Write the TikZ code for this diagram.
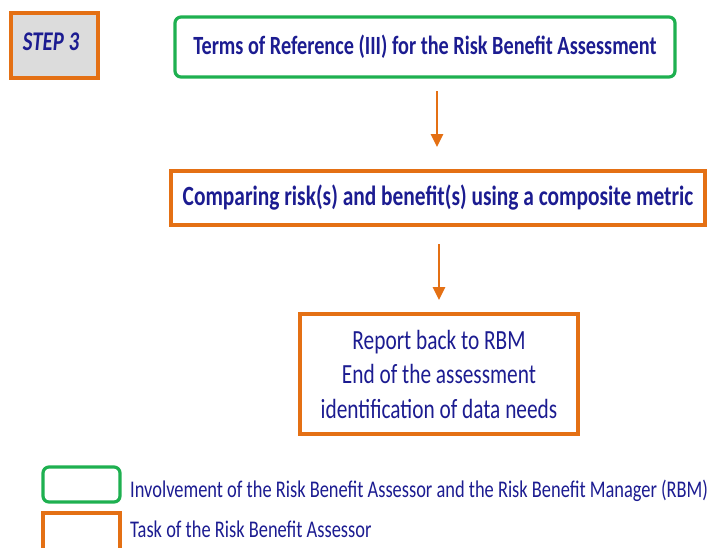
\documentclass[tikz,border=0pt]{standalone}
\usepackage{fontspec}
\setmainfont[FakeStretch=0.77]{Carlito}
\usetikzlibrary{arrows.meta}
\definecolor{ink}{RGB}{28,28,145}
\definecolor{boxorange}{RGB}{228,112,20}
\definecolor{boxgreen}{RGB}{30,176,80}
\definecolor{stepgray}{RGB}{220,220,220}
\tikzset{
  taskbox/.style={draw=boxorange, line width=3.2pt, fill=white, inner sep=0pt, align=center, text=ink},
  jointbox/.style={draw=boxgreen, line width=3.2pt, rounded corners=6pt, fill=white, inner sep=0pt, align=center, text=ink},
  flow/.style={draw=boxorange, line width=2.8pt, -{Triangle[length=13pt,width=12pt]}},
  legendtext/.style={anchor=base west, inner sep=0pt, text=ink, font=\fontsize{23.9}{28}\selectfont}
}
\begin{document}
\begin{tikzpicture}[x=1pt,y=-1pt]
\useasboundingbox (0,0) rectangle (708,547);
% step label
\node[taskbox, fill=stepgray, minimum width=87pt, minimum height=65pt] (step) at (54.5,45.5) {};
\node[inner sep=0pt, anchor=base, text=ink, font=\fontsize{27}{32}\selectfont\bfseries\itshape] (steptext) at (51,50) {STEP 3};
% flow boxes
\node[jointbox, minimum width=500pt, minimum height=60pt,
      font=\fontsize{26.3}{31}\selectfont\bfseries] (tor) at (425,47)
      {Terms of Reference (III) for the Risk Benefit Assessment};
\node[taskbox, minimum width=534pt, minimum height=54pt,
      font=\fontsize{27.8}{33}\selectfont\bfseries] (cmp) at (438,198)
      {Comparing risk(s) and benefit(s) using a composite metric};
\node[taskbox, minimum width=278pt, minimum height=120pt,
      font=\fontsize{27.7}{34.5}\selectfont] (rep) at (439,374)
      {Report back to RBM\\End of the assessment\\identification of data needs};
% arrows
\coordinate (a1s) at (437,91);
\coordinate (a1e) at (437,147);
\coordinate (a2s) at (439,244);
\coordinate (a2e) at (439,300);
\draw[flow] (a1s) -- (a1e);
\draw[flow] (a2s) -- (a2e);
% legend
\node[jointbox, minimum width=77pt, minimum height=35pt] (leg1) at (81.5,484.5) {};
\node[taskbox, minimum width=77pt, minimum height=47pt] (leg2) at (81.5,536.5) {};
\node[legendtext] (leg1t) at (130,497) {Involvement of the Risk Benefit Assessor and the Risk Benefit Manager (RBM)};
\node[legendtext] (leg2t) at (130,537) {Task of the Risk Benefit Assessor};
\end{tikzpicture}
\end{document}
